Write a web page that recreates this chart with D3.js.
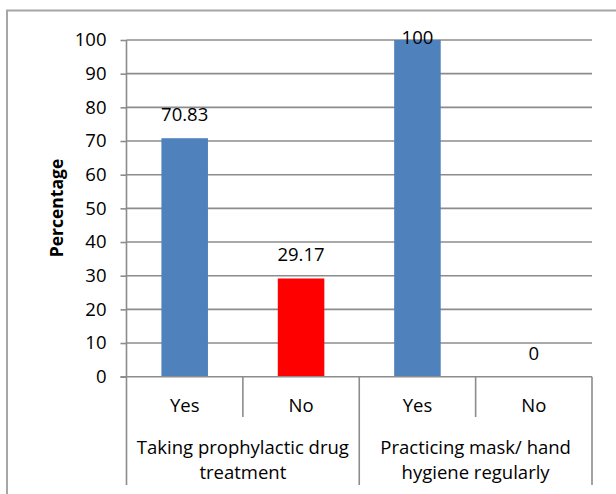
<!DOCTYPE html>
<html>
<head>
<meta charset="utf-8">
<script src="https://cdn.jsdelivr.net/npm/d3@7"></script>
<style>
  body { margin: 0; background: #fff; }
  text { font-family: "Open Sans", Lato, sans-serif; fill: #000; }
</style>
</head>
<body>
<div id="chart"></div>
<script>
// chart data
var answers = ["Yes", "No", "Yes", "No"];
var values = [70.83, 29.17, 100, 0];
var valueLabels = ["70.83", "29.17", "100", "0"];
var barColors = ["#4F81BD", "#FF0000", "#4F81BD", "#4F81BD"];
var groupLines = [
    ["Taking prophylactic drug", "treatment"],
    ["Practicing mask/ hand", "hygiene regularly"]
];
var yTicks = [0, 10, 20, 30, 40, 50, 60, 70, 80, 90, 100];

var svgWidth = 616;
var svgHeight = 494;
var fontSize = "18.5px";

var plot = { left: 126.5, right: 592, top: 40, bottom: 376.7 };

var svg = d3.select("#chart")
    .append("svg")
    .attr("width", svgWidth)
    .attr("height", svgHeight);

// outer frame (runs off the right and bottom edge)
svg.append("rect")
    .attr("x", 7)
    .attr("y", 10.5)
    .attr("width", 620)
    .attr("height", 500)
    .attr("fill", "none")
    .attr("stroke", "#a6a6a6")
    .attr("stroke-width", 2);

var x = d3.scaleBand()
    .domain(d3.range(answers.length))
    .range([plot.left, plot.right])
    .paddingInner(0.6)
    .paddingOuter(0.3);

var step = x.step();

var y = d3.scaleLinear()
    .domain([0, 100])
    .range([plot.bottom, plot.top]);

// gridlines
svg.append("g")
    .selectAll("line")
    .data(yTicks.filter(d => d > 0))
    .enter()
    .append("line")
    .attr("x1", plot.left)
    .attr("x2", plot.right)
    .attr("y1", d => y(d))
    .attr("y2", d => y(d))
    .attr("stroke", "#8c8c8c")
    .attr("stroke-width", 1.6);

// bars
svg.append("g")
    .selectAll("rect")
    .data(values)
    .enter()
    .append("rect")
    .attr("x", (d, i) => x(i))
    .attr("y", d => y(d))
    .attr("width", x.bandwidth())
    .attr("height", d => plot.bottom - y(d))
    .attr("fill", (d, i) => barColors[i]);

// y axis
var leftAxis = d3.axisLeft(y)
    .tickValues(yTicks)
    .tickSize(6)
    .tickPadding(14);

var yAxis = svg.append("g")
    .attr("transform", `translate(${plot.left}, 0)`)
    .call(leftAxis);

yAxis.select(".domain").remove();
yAxis.selectAll(".tick line")
    .attr("stroke", "#8c8c8c")
    .attr("stroke-width", 1.6);
yAxis.selectAll(".tick text")
    .style("font-family", "'Open Sans', sans-serif")
    .style("font-size", fontSize)
    .attr("fill", "#000");

svg.append("line")
    .attr("x1", plot.left)
    .attr("x2", plot.left)
    .attr("y1", plot.top)
    .attr("y2", 485)
    .attr("stroke", "#8c8c8c")
    .attr("stroke-width", 1.6);

// x axis line
svg.append("line")
    .attr("x1", plot.left - 6)
    .attr("x2", plot.right)
    .attr("y1", plot.bottom)
    .attr("y2", plot.bottom)
    .attr("stroke", "#8c8c8c")
    .attr("stroke-width", 1.6);

// category separators: short ones between Yes/No, long ones between groups
svg.append("g")
    .selectAll("line")
    .data(d3.range(1, answers.length + 1))
    .enter()
    .append("line")
    .attr("x1", d => plot.left + d * step)
    .attr("x2", d => plot.left + d * step)
    .attr("y1", plot.bottom)
    .attr("y2", d => d % 2 === 0 ? 485 : 417)
    .attr("stroke", "#8c8c8c")
    .attr("stroke-width", 1.6);

// value labels (clipped to the plot top like the original)
svg.append("g")
    .selectAll("text")
    .data(values)
    .enter()
    .append("text")
    .attr("x", (d, i) => x(i) + x.bandwidth() / 2)
    .attr("y", d => Math.max(y(d) - 17, 44))
    .attr("text-anchor", "middle")
    .style("font-size", fontSize)
    .text((d, i) => valueLabels[i]);

// answer labels
svg.append("g")
    .selectAll("text")
    .data(answers)
    .enter()
    .append("text")
    .attr("x", (d, i) => plot.left + (i + 0.5) * step)
    .attr("y", 412)
    .attr("text-anchor", "middle")
    .style("font-size", fontSize)
    .text(d => d);

// group labels
groupLines.forEach(function(lines, g) {
    var cx = plot.left + (g * 2 + 1) * step;
    var label = svg.append("text")
        .attr("text-anchor", "middle")
        .style("font-size", fontSize);
    lines.forEach(function(line, j) {
        label.append("tspan")
            .attr("x", cx)
            .attr("y", 454 + j * 25)
            .text(line);
    });
});

// y axis title
svg.append("text")
    .attr("transform", "rotate(-90)")
    .attr("x", -208)
    .attr("y", 63)
    .attr("text-anchor", "middle")
    .style("font-size", "17.5px")
    .style("font-weight", "bold")
    .text("Percentage");
</script>
</body>
</html>
